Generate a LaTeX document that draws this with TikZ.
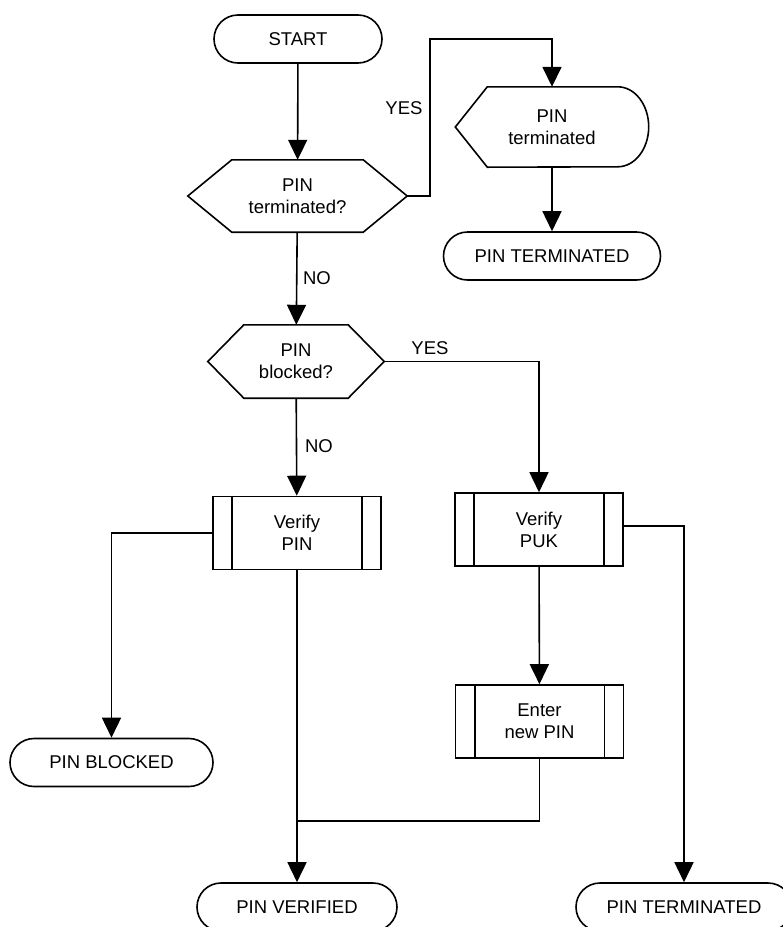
\documentclass[tikz,border=0pt]{standalone}
\usepackage{fontspec}
\setmainfont{Liberation Sans}
\usetikzlibrary{arrows.meta,positioning}
\tikzset{
  every node/.style={font=\fontsize{18.5pt}{22pt}\selectfont,align=center,inner sep=0pt},
  flow/.style={line width=1.6pt},
  arr/.style={flow,-{Triangle[length=20pt,width=19pt]}},
  terminal/.style={draw,flow,rectangle,rounded corners=24pt,minimum height=48pt},
  process/.style={draw,flow,rectangle,minimum width=168pt,minimum height=73pt},
  lbl/.style={inner sep=1pt}
}
\begin{document}
\begin{tikzpicture}[x=1pt,y=-1pt]
\useasboundingbox (0,0) rectangle (783,927);
% boxes
\node (start) [terminal,minimum width=168pt] at (298,39) {START};
\node (dec1) [minimum width=219pt,minimum height=72pt] at (297.5,196) {PIN\\terminated?};
\node (disp) [minimum width=193pt,minimum height=80pt] at (552,127) {PIN\\terminated};
\node (term1) [terminal,minimum width=217pt] at (552,256) {PIN TERMINATED};
\node (dec2) [minimum width=176pt,minimum height=73pt] at (296,361.5) {PIN\\blocked?};
\node (vpin) [process] at (297,533) {Verify\\PIN};
\node (vpuk) [process] at (539,529.5) {Verify\\PUK};
\node (newpin) [process] at (539.5,721.5) {Enter\\new PIN};
\node (blocked) [terminal,minimum width=203pt] at (111.5,762.5) {PIN BLOCKED};
\node (verified) [terminal,minimum width=200pt] at (297,907) {PIN VERIFIED};
\node (term2) [terminal,minimum width=216pt] at (684,907) {PIN TERMINATED};
%
\draw[flow] (dec1.west) -- ([xshift=44pt]dec1.north west) -- ([xshift=-44pt]dec1.north east)
  -- (dec1.east) -- ([xshift=-44pt]dec1.south east) -- ([xshift=44pt]dec1.south west) -- cycle;
\draw[flow] (dec2.west) -- ([xshift=36pt]dec2.north west) -- ([xshift=-36pt]dec2.north east)
  -- (dec2.east) -- ([xshift=-36pt]dec2.south east) -- ([xshift=36pt]dec2.south west) -- cycle;
\draw[flow] (disp.west) -- ([xshift=32pt]disp.north west) -- ([xshift=-31pt]disp.north east)
  arc[start angle=90,end angle=-90,x radius=31pt,y radius=40pt]
  -- ([xshift=32pt]disp.south west) -- cycle;
\foreach \n in {vpin,vpuk,newpin} {
  \draw[flow] ([xshift=20pt]\n.north west) -- ([xshift=20pt]\n.south west);
  \draw[flow] ([xshift=-20pt]\n.north east) -- ([xshift=-20pt]\n.south east);
}
%
\coordinate (c1) at (430,39);
\coordinate (j) at (297,821);
\draw[arr] (start) -- (dec1);
\draw[arr] (dec1.east) -| (c1) -| (disp.north);
\draw[arr] (disp) -- (term1);
\draw[arr] (dec1) -- (dec2);
\draw[arr] (dec2.east) -| (vpuk.north);
\draw[arr] (dec2) -- (vpin);
\draw[arr] (vpin.west) -| (blocked.north);
\draw[arr] (vpuk) -- (newpin);
\draw[arr] ([yshift=3.5pt]vpuk.east) -| (term2.north);
\draw[arr] (vpin) -- (verified);
\draw[flow] (newpin.south) |- (j);
% labels
\node (yes1) [lbl] at (404,108) {YES};
\node (no1) [lbl] at (317,278) {NO};
\node (yes2) [lbl] at (430,348) {YES};
\node (no2) [lbl] at (319,446) {NO};
\end{tikzpicture}
\end{document}
